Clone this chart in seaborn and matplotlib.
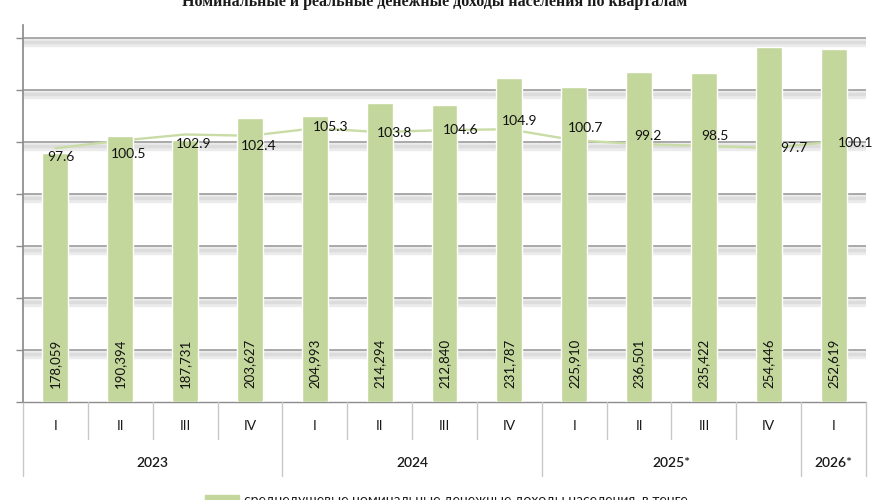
import numpy as np
import pandas as pd
import seaborn as sns
import matplotlib.pyplot as plt
from matplotlib.patches import Rectangle
from matplotlib.lines import Line2D

quarters = ['I', 'II', 'III', 'IV', 'I', 'II', 'III', 'IV', 'I', 'II', 'III', 'IV', 'I']
years = ['2023', '2024', '2025*', '2026*']
year_spans = [(0, 4), (4, 8), (8, 12), (12, 13)]
income = [178059, 190394, 187731, 203627, 204993, 214294, 212840,
          231787, 225910, 236501, 235422, 254446, 252619]
real_index = [97.6, 100.5, 102.9, 102.4, 105.3, 103.8, 104.6,
              104.9, 100.7, 99.2, 98.5, 97.7, 100.1]

bar_color = '#c3d69b'
line_color = '#c9dca5'

sns.set_theme(style='white')
plt.rcParams['font.family'] = ['Lato', 'DejaVu Sans']

df = pd.DataFrame({'pos': np.arange(len(income)), 'income': income, 'index': real_index})

fig = plt.figure(figsize=(8.88, 5), dpi=100)
ax = fig.add_axes([23 / 888, 98 / 500, (866 - 23) / 888, 377 / 500])
ax2 = ax.twinx()

# line (primary axis, drawn under the bars)
sns.lineplot(data=df, x='pos', y='index', ax=ax, color=line_color, lw=1.7, legend=False)
ax.set_ylim(0, 145)
ax.set_xlim(-0.5, 12.5)

# gridlines with a soft shadow below
for g in range(20, 141, 20):
    ax.axhline(g - 1.8, color='#ebebeb', lw=6, zorder=0)
    ax.axhline(g - 1.6, color='#dcdcdc', lw=2.5, zorder=0)
    ax.axhline(g, color='#929292', lw=1.1, zorder=1)

# bars (secondary axis, on top)
sns.barplot(data=df, x='pos', y='income', ax=ax2, color=bar_color, width=0.4,
            saturation=1, native_scale=True)
ax2.set_ylim(0, 270000)
ax2.set_xlim(-0.5, 12.5)

for i, v in enumerate(income):
    ax2.text(i, 10000, f'{v:,}', rotation=90, ha='center', va='bottom',
             fontsize=9.5, color='#111111')

label_off = [(6, -9), (8, -13), (8, -10), (9, -10), (16, 1), (15, -1), (16, 0),
             (10, 8), (11, 12), (9, 8), (11, 10), (25, 0), (22, -1)]
for i, v in enumerate(real_index):
    ax2.annotate(f'{v}', xy=(i, v), xycoords=ax.transData, xytext=label_off[i],
                 textcoords='offset pixels', ha='center', va='center',
                 fontsize=10, color='#111111', zorder=5)

for a in (ax, ax2):
    for s in a.spines.values():
        s.set_visible(False)
    a.set_xlabel('')
    a.set_ylabel('')
    a.set_xticks([])
ax2.set_yticks([])
ax.set_yticks(range(0, 141, 20))
ax.set_yticklabels([])
ax.tick_params(axis='y', left=True, length=5, color='#8c8c8c', width=1)
ax.spines['left'].set_visible(True)
ax.spines['left'].set_color('#8c8c8c')

# two-level category axis
tr = ax.get_xaxis_transform()
sep = '#c8c8c8'
ax.add_line(Line2D([-0.5, 12.5], [0, 0], transform=tr, color='#8c8c8c', lw=1, clip_on=False))
for k in range(len(quarters) + 1):
    x = k - 0.5
    long = any(k == s for s, e in year_spans) or k == len(quarters)
    ax.add_line(Line2D([x, x], [0, -0.196 if long else -0.098], transform=tr,
                       color=sep, lw=1, clip_on=False))
for i, q in enumerate(quarters):
    ax.text(i, -0.064, q, transform=tr, ha='center', va='center', fontsize=10, color='#1a1a1a')
for y, (s, e) in zip(years, year_spans):
    ax.text((s + e - 1) / 2, -0.162, y, transform=tr, ha='center', va='center',
            fontsize=10, color='#1a1a1a', fontweight='semibold')

fig.text(0.49, 1 - 6 / 500, 'Номинальные и реальные денежные доходы населения по кварталам',
         ha='center', va='baseline', fontsize=11.5, fontweight='bold',
         family=['Liberation Serif', 'DejaVu Serif'], color='#1a1a1a')

fig.patches.append(Rectangle((205 / 888, -0.01), 34 / 888, 0.02, transform=fig.transFigure,
                             color=bar_color, figure=fig))
fig.text(244 / 888, 0.0, 'среднедушевые номинальные денежные доходы населения, в тенге',
         ha='left', va='center', fontsize=10, color='#1a1a1a')

fig.savefig('out.png', dpi=100)
